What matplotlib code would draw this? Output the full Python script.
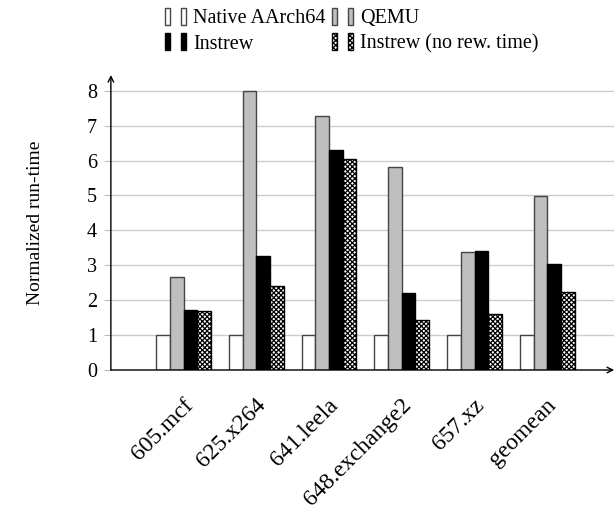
import matplotlib
matplotlib.use("Agg")
import matplotlib.pyplot as plt
import matplotlib.transforms as mtransforms
from matplotlib.patches import Rectangle
from matplotlib.legend_handler import HandlerTuple
import numpy as np

plt.rcParams['font.family'] = ['Liberation Serif', 'DejaVu Serif']
plt.rcParams['hatch.linewidth'] = 0.9

benchmarks = ["605.mcf", "625.x264", "641.leela", "648.exchange2", "657.xz", "geomean"]
native = [1, 1, 1, 1, 1, 1]
qemu = [2.67, 7.98, 7.28, 5.82, 3.38, 4.97]
instrew = [1.73, 3.26, 6.31, 2.21, 3.42, 3.05]
instrew_norew = [1.69, 2.41, 6.04, 1.42, 1.61, 2.23]
series_names = ["Native AArch64", "QEMU", "Instrew", "Instrew (no rew. time)"]

fs = 14.5
fig = plt.figure(figsize=(6.16, 5.18), dpi=100)
ax = fig.add_axes([0.180, 0.2857, 0.817, 0.5695])

x = np.arange(1, len(benchmarks) + 1)
w = 0.188
styles = [
    dict(facecolor="white", edgecolor="#444444"),
    dict(facecolor="#bfbfbf", edgecolor="#444444"),
    dict(facecolor="black", edgecolor="black"),
    dict(facecolor="white", edgecolor="black", hatch="xxxxxxx"),
]
series = [native, qemu, instrew, instrew_norew]
for i, (vals, st) in enumerate(zip(series, styles)):
    ax.bar(x + (i - 1.5) * w, vals, w, linewidth=1.0, zorder=3, **st)

ax.set_xlim(0, 6.92)
ax.set_ylim(0, 8.45)
ax.set_yticks(range(0, 9))
ax.set_yticklabels([str(v) for v in range(0, 9)], fontsize=fs)
ax.set_xticks(x)
ax.set_xticklabels([])
ax.tick_params(axis="x", length=0)
ax.tick_params(axis="y", length=5, color="#bbbbbb", pad=5)
ax.yaxis.grid(True, color="#cccccc", linewidth=1.0, zorder=0)
ax.set_axisbelow(True)
for s in ["top", "right", "left", "bottom"]:
    ax.spines[s].set_visible(False)

# rotated category labels, anchored at their right end below each group
lab_tr = ax.get_xaxis_transform() + mtransforms.ScaledTranslation(0.06, -0.32, fig.dpi_scale_trans)
for xi, name in zip(x, benchmarks):
    ax.text(xi, 0, name, transform=lab_tr, rotation=45, ha="right", va="center",
            rotation_mode="anchor", fontsize=17)

# axis lines with arrows
ax.annotate("", xy=(0, 1.0), xytext=(0, 0), xycoords="axes fraction",
            arrowprops=dict(arrowstyle="->", color="black", lw=1.0, shrinkA=0, shrinkB=0), zorder=5)
ax.annotate("", xy=(1.0, 0), xytext=(0, 0), xycoords="axes fraction",
            arrowprops=dict(arrowstyle="->", color="black", lw=1.0, shrinkA=0, shrinkB=0), zorder=5)

ax.set_ylabel("Normalized run-time", fontsize=14, labelpad=31)

handles = []
for st in styles:
    p1 = Rectangle((0, 0), 1, 1, linewidth=1.0, **st)
    p2 = Rectangle((0, 0), 1, 1, linewidth=1.0, **st)
    handles.append((p1, p2))
order = [0, 2, 1, 3]
fig.legend([handles[i] for i in order], [series_names[i] for i in order],
           handler_map={tuple: HandlerTuple(ndivide=None, pad=0.55)},
           ncol=2, loc="upper left", bbox_to_anchor=(0.245, 1.012), frameon=False,
           fontsize=fs, handlelength=1.05, handleheight=0.9, handletextpad=0.35,
           columnspacing=0.3, labelspacing=0.25, borderpad=0.2)

fig.savefig("out.png", dpi=100)
